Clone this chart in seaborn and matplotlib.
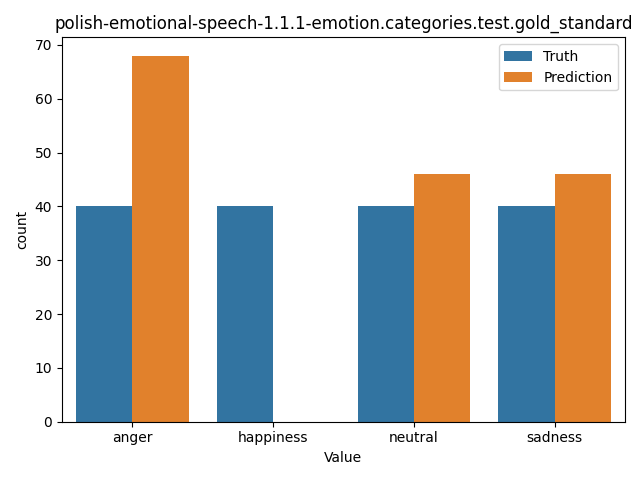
import pandas as pd
import matplotlib.pyplot as plt
import seaborn as sns

# Values
categories = ['anger', 'happiness', 'neutral', 'sadness']
truth_counts = [40, 40, 40, 40]
prediction_counts = [68, 0, 46, 46]

df = pd.DataFrame({
    'Value': categories * 2,
    'count': truth_counts + prediction_counts,
    'source': ['Truth'] * len(categories) + ['Prediction'] * len(categories),
})

plt.figure(figsize=(6.4, 4.8), dpi=100)
ax = sns.barplot(data=df, x='Value', y='count', hue='source')
ax.legend(title=None)
plt.title('polish-emotional-speech-1.1.1-emotion.categories.test.gold_standard')
plt.xlabel('Value')
plt.ylabel('count')
plt.tight_layout()
plt.savefig('out.png')
